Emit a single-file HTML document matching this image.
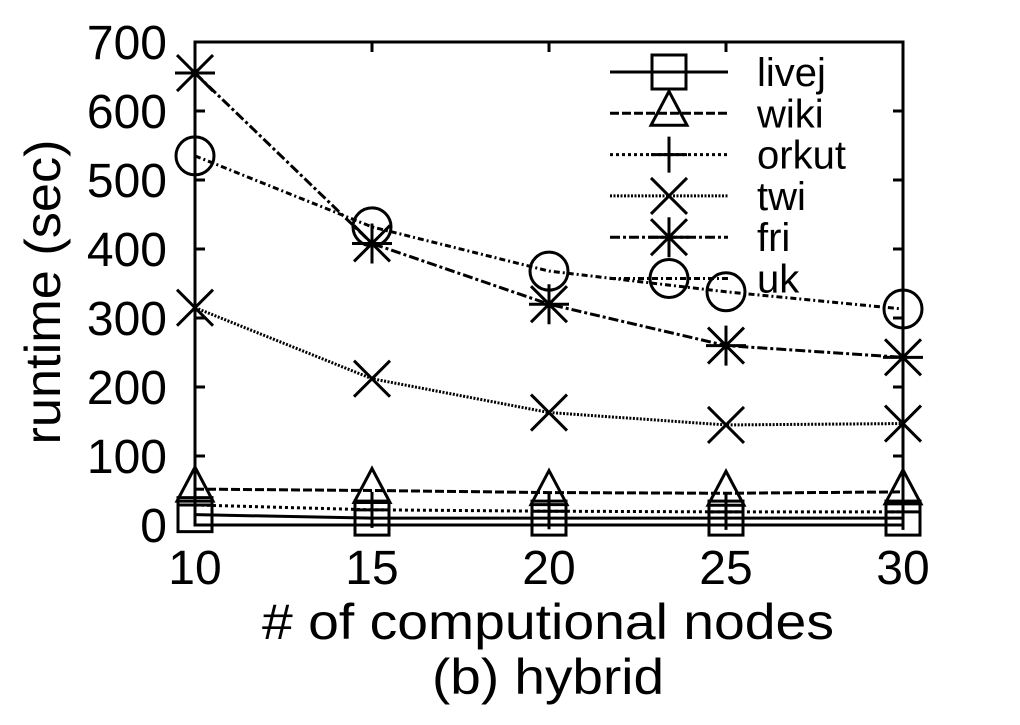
<!DOCTYPE html>
<html><head><meta charset="utf-8"><style>
html,body{margin:0;padding:0;background:#fff;}
svg{display:block;font-family:"Liberation Sans",Arial,sans-serif;}
</style></head><body>
<svg id="chart" width="1020" height="725" viewBox="0 0 1020 725">
<g id="ticks"></g>
<g id="series"></g>
<rect x="195" y="42" width="708" height="483" fill="none" stroke="#000" stroke-width="3"/>
<g id="legend"></g>
<text x="548" y="639" font-size="50" text-anchor="middle" textLength="572" lengthAdjust="spacingAndGlyphs"># of computional nodes</text>
<text x="548" y="694" font-size="50" text-anchor="middle" textLength="232" lengthAdjust="spacingAndGlyphs">(b) hybrid</text>
<text transform="translate(60,292) rotate(-90)" font-size="50" text-anchor="middle" textLength="305" lengthAdjust="spacingAndGlyphs">runtime (sec)</text>
</svg>
<script>
const categories = [10, 15, 20, 25, 30];
const yTicks = [0, 100, 200, 300, 400, 500, 600, 700];
const seriesNames = ["livej", "wiki", "orkut", "twi", "fri", "uk"];
const livej = [15, 10, 10, 10, 10];
const wiki = [52, 50, 47, 46, 48];
const orkut = [29, 22, 20, 19, 19];
const twi = [315, 212, 163, 145, 147];
const fri = [655, 408, 320, 260, 243];
const uk = [535, 432, 368, 338, 313];

const NS = "http://www.w3.org/2000/svg";
const X0 = 195, X1 = 903, Y0 = 525, Y1 = 42;
function xs(v){ return X0 + (v - 10) / 20 * (X1 - X0); }
function ys(v){ return Y0 - v / 700 * (Y0 - Y1); }
function mk(tag, attrs, parent){ const e = document.createElementNS(NS, tag); for (const k in attrs) e.setAttribute(k, attrs[k]); parent.appendChild(e); return e; }

const ticks = document.getElementById('ticks');
yTicks.forEach(t => {
  const y = ys(t);
  const tl = mk('line', {x1: X0, x2: X0 + 10, y1: y, y2: y, stroke: '#000', 'stroke-width': 3}, ticks);
  
  
  const tr = mk('line', {x1: X1 - 10, x2: X1, y1: y, y2: y, stroke: '#000', 'stroke-width': 3}, ticks);
  
  
  const tx = mk('text', {x: 167, y: y + 17, 'font-size': 48, 'text-anchor': 'end'}, ticks);
  tx.textContent = t;
  
  
});
categories.forEach(c => {
  const x = xs(c);
  const tb = mk('line', {x1: x, x2: x, y1: Y0, y2: Y0 - 10, stroke: '#000', 'stroke-width': 3}, ticks);
  
  
  const tt = mk('line', {x1: x, x2: x, y1: Y1, y2: Y1 + 10, stroke: '#000', 'stroke-width': 3}, ticks);
  
  
  const tx = mk('text', {x: x, y: 584, 'font-size': 48, 'text-anchor': 'middle'}, ticks);
  tx.textContent = c;
  
  
});

const dashes = ["", "9,3", "3,3", "2,1.5", "10,3,3,3", "6,3,2,3"];
function marker(type, x, y, g){
  const a = {fill: 'none', stroke: '#000', 'stroke-width': 3};
  if (type === 0) mk('rect', Object.assign({x: x - 17, y: y - 17, width: 34, height: 34}, a), g);
  else if (type === 1) mk('polygon', Object.assign({points: `${x},${y-22} ${x+18},${y+12} ${x-18},${y+12}`}, a), g);
  else if (type === 2) mk('path', Object.assign({d: `M${x-18},${y}H${x+18}M${x},${y-18}V${y+18}`}, a), g);
  else if (type === 3) mk('path', Object.assign({d: `M${x-18},${y-18}L${x+18},${y+18}M${x-18},${y+18}L${x+18},${y-18}`}, a), g);
  else if (type === 4) mk('path', Object.assign({d: `M${x-18},${y-18}L${x+18},${y+18}M${x-18},${y+18}L${x+18},${y-18}M${x-20},${y}H${x+20}M${x},${y-20}V${y+20}`}, a), g);
  else mk('circle', Object.assign({cx: x, cy: y, r: 19}, a), g);
}
const data = [livej, wiki, orkut, twi, fri, uk];
const sg = document.getElementById('series');
data.forEach((vals, i) => {
  const g = mk('g', {}, sg);
  
  
  const pts = vals.map((v, j) => xs(categories[j]) + ',' + ys(v)).join(' ');
  const pl = mk('polyline', {points: pts, fill: 'none', stroke: '#000', 'stroke-width': 3, 'stroke-dasharray': dashes[i]}, g);
  
  
  vals.forEach((v, j) => marker(i, xs(categories[j]), ys(v), g));
});

const lg = document.getElementById('legend');
seriesNames.forEach((n, i) => {
  const y = 72 + i * 41.3;
  const g = mk('g', {}, lg);
  
  
  mk('line', {x1: 610, x2: 728, y1: y, y2: y, stroke: '#000', 'stroke-width': 3, 'stroke-dasharray': dashes[i]}, g);
  marker(i, 669, y, g);
  const t = mk('text', {x: 757, y: y + 14, 'font-size': 40}, g);
  t.textContent = n;
});
</script>
</body></html>
